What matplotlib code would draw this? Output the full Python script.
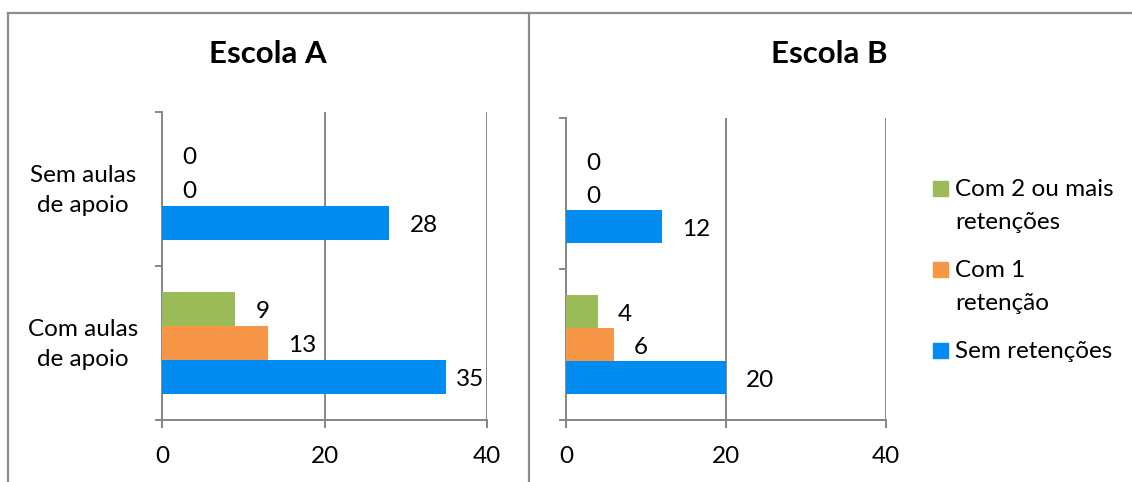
import matplotlib.pyplot as plt
from matplotlib.lines import Line2D
from matplotlib.patches import Rectangle

plt.rcParams['font.family'] = ['Lato', 'DejaVu Sans']

W, H = 1132, 482
DPI = 100
FS = 17.5

# data
categories = ["Com aulas\nde apoio", "Sem aulas\nde apoio"]
series = ["Sem retenções", "Com 1 retenção", "Com 2 ou mais retenções"]
legend_labels = ["Com 2 ou mais\nretenções", "Com 1\nretenção", "Sem retenções"]
colors = ["#008CF0", "#F79646", "#9BBB59"]

escola_a = {
    "Sem retenções": [35, 28],
    "Com 1 retenção": [13, 0],
    "Com 2 ou mais retenções": [9, 0],
}
escola_b = {
    "Sem retenções": [20, 12],
    "Com 1 retenção": [6, 0],
    "Com 2 ou mais retenções": [4, 0],
}
x_ticks = [0, 20, 40]

GRAY = "#868686"
BAR_H = 0.22


def px_box(x0, y_top, x1, y_bot):
    return [x0 / W, 1 - y_bot / H, (x1 - x0) / W, (y_bot - y_top) / H]


def draw_panel(ax, data, show_cats):
    for i, name in enumerate(series):
        vals = data[name]
        ys = [c + 0.5 + (i - 1) * BAR_H for c in range(len(categories))]
        ax.barh(ys, vals, height=BAR_H, color=colors[i], zorder=3)
        for v, y in zip(vals, ys):
            if v / x_ticks[-1] > 0.8:
                ax.annotate(str(v), (x_ticks[-1], y), xytext=(-2, -2), textcoords="offset points",
                            ha="right", va="center", fontsize=FS)
            else:
                ax.annotate(str(v), (v, y), xytext=(14.5, -2), textcoords="offset points",
                            ha="left", va="center", fontsize=FS)

    ax.set_xlim(x_ticks[0], x_ticks[-1])
    ax.set_ylim(0, len(categories))
    ax.set_xticks(x_ticks)
    ax.set_yticks(range(len(categories) + 1))
    ax.set_yticklabels([])
    if show_cats:
        for c, cat in enumerate(categories):
            ax.annotate(cat, (0, c + 0.5), xycoords=("axes fraction", "data"),
                        xytext=(-57, -1), textcoords="offset points",
                        ha="center", va="center", multialignment="center",
                        linespacing=1.5, fontsize=FS)
    ax.tick_params(axis="y", which="major", length=5, color=GRAY, width=1.4)
    ax.tick_params(axis="x", length=6, color=GRAY, width=1.4, pad=13, labelsize=FS)
    ax.grid(axis="x", color=GRAY, linewidth=1.4, zorder=0)
    ax.grid(axis="y", visible=False)
    for s in ["top", "right"]:
        ax.spines[s].set_visible(False)
    for s in ["left", "bottom"]:
        ax.spines[s].set_color(GRAY)
        ax.spines[s].set_linewidth(1.4)


fig = plt.figure(figsize=(W / DPI, H / DPI), dpi=DPI)

ax_a = fig.add_axes(px_box(162, 112, 487, 420))
draw_panel(ax_a, escola_a, True)
ax_b = fig.add_axes(px_box(566, 118, 886, 420))
draw_panel(ax_b, escola_b, False)

fig.text(268 / W, 1 - 54 / H, "Escola A", ha="center", va="center", fontsize=22.5, fontweight="bold")
fig.text(829 / W, 1 - 54 / H, "Escola B", ha="center", va="center", fontsize=22.5, fontweight="bold")

# panel borders
border = dict(color="#8C8C8C", linewidth=1.6, transform=fig.transFigure)
fig.add_artist(Line2D([8 / W, 1], [1 - 13 / H] * 2, **border))
fig.add_artist(Line2D([8 / W] * 2, [0, 1 - 13 / H], **border))
fig.add_artist(Line2D([529 / W] * 2, [0, 1 - 13 / H], **border))

# legend
y = 188
for lab, col in zip(legend_labels, colors[::-1]):
    fig.add_artist(Rectangle((933 / W, 1 - (y + 7.5) / H), 15 / W, 15 / H,
                             color=col, transform=fig.transFigure))
    for line in lab.split("\n"):
        fig.text(955 / W, 1 - (y + 8) / H, line, ha="left", va="baseline", fontsize=FS)
        y += 33
    y += 15

fig.savefig("out.png", dpi=DPI)
